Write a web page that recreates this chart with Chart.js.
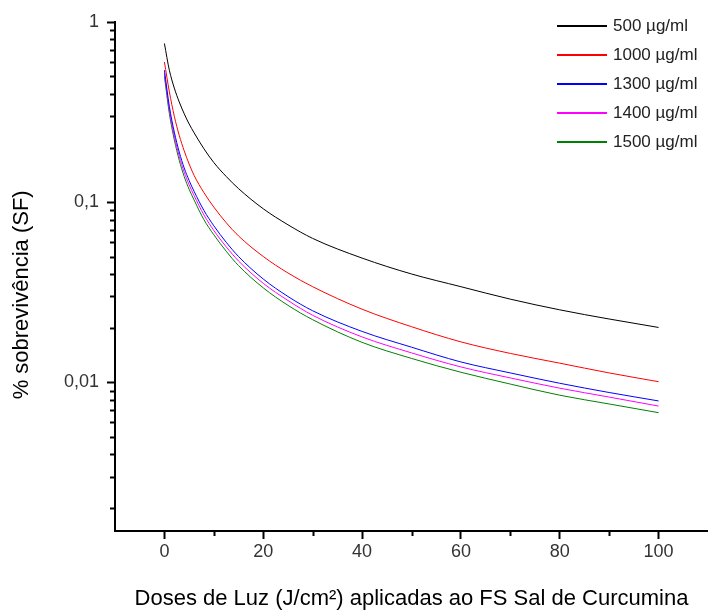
<!DOCTYPE html>
<html lang="pt">
<head>
<meta charset="utf-8">
<title>Sobrevivência x dose de luz</title>
<script src="https://cdn.jsdelivr.net/npm/chart.js@4.4.0/dist/chart.umd.min.js"></script>
<style>
    html, body { margin: 0; padding: 0; background: #fff; }
    .chart-wrap { position: relative; width: 708px; height: 613px; }
    .chart-legend { position: absolute; left: 557px; top: 11px; font: 17px "Liberation Sans", Arial, sans-serif; color: #222; }
    .chart-legend-item { display: flex; align-items: center; height: 29px; }
    .chart-legend-color { width: 50px; height: 2px; margin-right: 6px; }
</style>
</head>
<body>
<div class="chart-wrap">
    <canvas id="sfChart"></canvas>
    <div class="chart-legend" id="sfLegend"></div>
</div>
<script>
// doses de luz (J/cm2) e fração de sobrevivência
const doses = [0, 1, 2, 3, 4, 5, 6, 8, 10, 12.5, 15, 20, 25, 30, 40, 50, 60, 70, 80, 90, 100];
const sf500  = [0.76, 0.54, 0.43, 0.36, 0.31, 0.272, 0.243, 0.198, 0.166, 0.139, 0.119, 0.092, 0.075, 0.063, 0.049, 0.040, 0.034, 0.029, 0.0253, 0.0225, 0.0202];
const sf1000 = [0.60, 0.41, 0.30, 0.235, 0.193, 0.163, 0.141, 0.113, 0.094, 0.077, 0.065, 0.050, 0.0405, 0.034, 0.0255, 0.0204, 0.0168, 0.0145, 0.0128, 0.0113, 0.0101];
const sf1300 = [0.54, 0.34, 0.245, 0.19, 0.155, 0.132, 0.115, 0.090, 0.074, 0.060, 0.050, 0.0375, 0.030, 0.025, 0.0192, 0.0157, 0.013, 0.0113, 0.0099, 0.0088, 0.0079];
const sf1400 = [0.52, 0.325, 0.233, 0.18, 0.147, 0.125, 0.109, 0.085, 0.0697, 0.0566, 0.0472, 0.0355, 0.0285, 0.0236, 0.0179, 0.0146, 0.0122, 0.0106, 0.0093, 0.0083, 0.0074];
const sf1500 = [0.50, 0.31, 0.222, 0.171, 0.139, 0.118, 0.103, 0.080, 0.066, 0.0535, 0.0445, 0.0335, 0.0268, 0.0223, 0.0167, 0.0136, 0.0114, 0.0098, 0.0085, 0.0076, 0.0068];
const seriesLabels = ['500 µg/ml', '1000 µg/ml', '1300 µg/ml', '1400 µg/ml', '1500 µg/ml'];
const seriesColors = ['#000000', '#ff0000', '#0000ff', '#ff00ff', '#008000'];
const xTicks = [0, 20, 40, 60, 80, 100];
const xMinor = [10, 30, 50, 70, 90];
const yTicks = [0.01, 0.1, 1];
const yTickLabels = ['0,01', '0,1', '1'];
const yMinorSteps = [2, 3, 4, 5, 6, 7, 8, 9];
const yDecades = [0.001, 0.01, 0.1];

Chart.defaults.font.family = '"Liberation Sans", Arial, sans-serif';
Chart.defaults.color = '#222';

const series = [sf500, sf1000, sf1300, sf1400, sf1500];
const datasets = series.map((vals, i) => ({
    label: seriesLabels[i],
    data: doses.map((d, j) => ({ x: d, y: vals[j] })),
    borderColor: seriesColors[i],
    backgroundColor: seriesColors[i],
    borderWidth: 1,
    pointRadius: 0,
    cubicInterpolationMode: 'monotone',
    fill: false
}));

// ticks menores nos eixos (curtos, sem rótulo)
const minorTicks = {
    id: 'minorTicks',
    afterDraw(chart) {
        const { ctx, scales: { x, y } } = chart;
        const yMinor = [];
        yDecades.forEach(d => yMinorSteps.forEach(s => yMinor.push(d * s)));
        ctx.save();
        ctx.strokeStyle = '#000';
        ctx.lineWidth = 2;
        ctx.beginPath();
        yMinor.filter(v => v >= y.min && v <= y.max).forEach(v => {
            const p = Math.round(y.getPixelForValue(v)) + 0.5;
            ctx.moveTo(y.right - 5, p);
            ctx.lineTo(y.right + 1, p);
        });
        xMinor.forEach(v => {
            const p = Math.round(x.getPixelForValue(v)) + 0.5;
            ctx.moveTo(p, x.top - 1);
            ctx.lineTo(p, x.top + 5);
        });
        ctx.stroke();
        ctx.restore();
    }
};

new Chart(document.getElementById('sfChart'), {
    type: 'line',
    data: { datasets },
    options: {
        responsive: true,
        maintainAspectRatio: false,
        animation: false,
        layout: { padding: { top: 22, right: 0, bottom: 0, left: 0 } },
        plugins: { legend: { display: false }, tooltip: { enabled: false } },
        scales: {
            x: {
                type: 'linear',
                min: -10,
                max: 110,
                afterBuildTicks: s => { s.ticks = xTicks.map(v => ({ value: v })); },
                afterFit: s => { s.height = 82; },
                ticks: { font: { size: 18 }, color: '#333', padding: 2, maxRotation: 0 },
                grid: { drawOnChartArea: false, drawTicks: true, tickLength: 8, tickColor: '#000', tickWidth: 2 },
                border: { display: true, color: '#000', width: 2 },
                title: {
                    display: true,
                    text: 'Doses de Luz (J/cm²) aplicadas ao FS Sal de Curcumina',
                    font: { size: 22 },
                    color: '#000',
                    padding: { top: 0, bottom: 1 }
                }
            },
            y: {
                type: 'logarithmic',
                min: 0.0015,
                max: 1,
                afterBuildTicks: s => { s.ticks = yTicks.map(v => ({ value: v })); },
                afterFit: s => { s.width = 115; },
                ticks: {
                    font: { size: 18 },
                    color: '#333',
                    padding: 8,
                    callback: v => yTickLabels[yTicks.indexOf(v)] ?? ''
                },
                grid: { drawOnChartArea: false, drawTicks: true, tickLength: 8, tickColor: '#000', tickWidth: 2 },
                border: { display: true, color: '#000', width: 2 },
                title: {
                    display: true,
                    text: '% sobrevivência (SF)\u00a0\u00a0\u00a0\u00a0\u00a0\u00a0',
                    font: { size: 22 },
                    color: '#000',
                    padding: { top: 9, bottom: 0 }
                }
            }
        }
    },
    plugins: [minorTicks]
});

const legendEl = document.getElementById('sfLegend');
legendEl.innerHTML = seriesLabels.map((lbl, i) =>
    `<div class="chart-legend-item"><span class="chart-legend-color" style="background:${seriesColors[i]}"></span>${lbl}</div>`
).join('');
</script>
</body>
</html>
